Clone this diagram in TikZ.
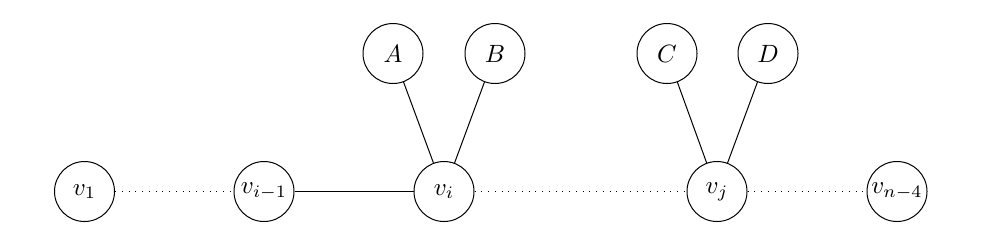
\documentclass[tikz,border=0pt]{standalone}
\begin{document}
\begin{tikzpicture}[x=1pt,y=1pt,
  vtx/.style={draw,circle,minimum size=24pt,inner sep=0pt},
  dotline/.style={dash pattern=on 0.4pt off 2.3pt}]
\useasboundingbox (0,0) rectangle (392.8,97.6);
\node[vtx] (v1) at (33.8,21) {$v_1$};
\node[vtx] (vim1) at (105.6,21) {$v_{i-1}$};
\node[vtx] (vi) at (177.6,21) {$v_i$};
\node[vtx] (vj) at (286.8,21) {$v_j$};
\node[vtx] (vn4) at (358.8,21) {$v_{n-4}$};
\node[vtx] (A) at (157.2,76.2) {$A$};
\node[vtx] (B) at (198,76.2) {$B$};
\node[vtx] (C) at (266.8,76.2) {$C$};
\node[vtx] (D) at (307.2,76.2) {$D$};
\draw[dotline] (v1) -- (vim1);
\draw (vim1) -- (vi);
\draw[dotline] (vi) -- (vj);
\draw[dotline] (vj) -- (vn4);
\draw (A) -- (vi);
\draw (B) -- (vi);
\draw (C) -- (vj);
\draw (D) -- (vj);
\end{tikzpicture}
\end{document}
